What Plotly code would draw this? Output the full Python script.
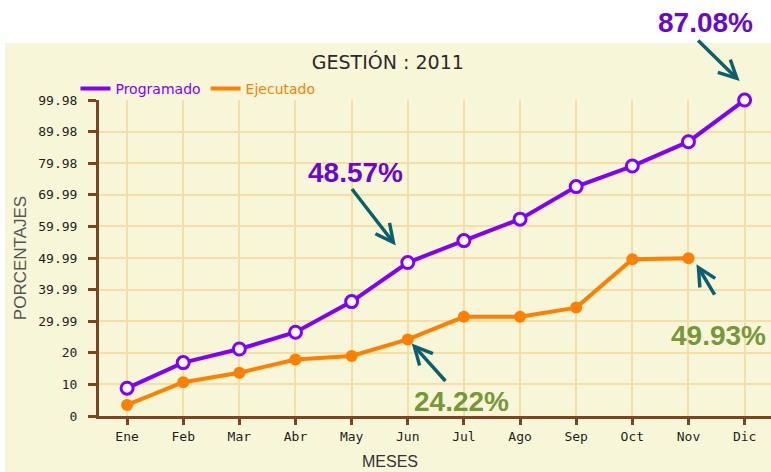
import plotly.graph_objects as go

months = ["Ene", "Feb", "Mar", "Abr", "May", "Jun", "Jul", "Ago", "Sep", "Oct", "Nov", "Dic"]
programado = [8.8, 16.9, 21.2, 26.5, 36.2, 48.57, 55.5, 62.3, 72.6, 79.1, 86.8, 99.98]
ejecutado = [3.5, 10.7, 13.7, 17.9, 19.0, 24.22, 31.4, 31.4, 34.3, 49.6, 49.93]
ytick_vals = [0, 10, 20, 29.99, 39.99, 49.99, 59.99, 69.99, 79.98, 89.98, 99.98]
ytick_text = ["0", "10", "20", "29.99", "39.99", "49.99", "59.99", "69.99", "79.98", "89.98", "99.98"]

PURPLE = "#7F00FF"
ORANGE = "#FF7F00"
BROWN = "#7A4620"
GRID = "#F2E0A8"
CREAM = "#F8F6D8"
TXT_PURPLE = "#6B08D0"
TXT_GREEN = "#77973A"
ARROW = "#0D5F6E"

# plot-area geometry (pixels) used to place free text in paper coords
L, R, T, B = 99, 771, 100, 416
def px(xp):
    return (xp - L) / (R - L)
def py(yp):
    return (B - yp) / (B - T)

fig = go.Figure()

fig.add_trace(go.Scatter(
    x=months, y=programado, mode="lines+markers", showlegend=False, cliponaxis=False,
    line=dict(color=PURPLE, width=4),
    marker=dict(symbol="circle", size=12, color="#FBF9F0", line=dict(color=PURPLE, width=3)),
))
fig.add_trace(go.Scatter(
    x=months[:len(ejecutado)], y=ejecutado, mode="lines+markers", showlegend=False, cliponaxis=False,
    line=dict(color=ORANGE, width=4),
    marker=dict(symbol="circle", size=12, color=ORANGE),
))
# legend entries (line swatch only)
fig.add_trace(go.Scatter(x=[None], y=[None], mode="lines",
                         name=f"<span style='color:{PURPLE}'>Programado</span>",
                         line=dict(color=PURPLE, width=4)))
fig.add_trace(go.Scatter(x=[None], y=[None], mode="lines",
                         name=f"<span style='color:{ORANGE}'>Ejecutado</span>",
                         line=dict(color=ORANGE, width=4)))

fig.update_layout(
    width=771, height=472, autosize=False,
    margin=dict(l=L, r=771 - R, t=T, b=472 - B),
    paper_bgcolor=CREAM, plot_bgcolor=CREAM,
    title=dict(text="GESTIÓN : 2011", x=0.503, xanchor="center", y=1 - 62 / 472, yanchor="middle",
               font=dict(family="DejaVu Sans", size=19, color="#2A2A2A")),
    legend=dict(orientation="h", x=-0.035, y=1.035, xanchor="left", yanchor="middle",
                bgcolor="rgba(0,0,0,0)", font=dict(family="DejaVu Sans", size=14),
                itemwidth=30, tracegroupgap=0),
    font=dict(family="DejaVu Sans"),
    hovermode=False,
)

fig.update_xaxes(
    type="category", range=[-0.5, 11.47],
    showline=True, linecolor=BROWN, linewidth=3,
    ticks="outside", ticklen=6, tickwidth=3, tickcolor=BROWN,
    showgrid=True, gridcolor=GRID, gridwidth=2,
    tickfont=dict(family="DejaVu Sans Mono", size=13, color="#1E1E1E"),
    zeroline=False,
)
fig.update_yaxes(
    range=[0, 100], tickmode="array", tickvals=ytick_vals, ticktext=ytick_text,
    showline=True, linecolor=BROWN, linewidth=3,
    ticks="outside", ticklen=8, tickwidth=3, tickcolor=BROWN, ticklabelstandoff=8,
    showgrid=True, gridcolor=GRID, gridwidth=2,
    tickfont=dict(family="DejaVu Sans Mono", size=13, color="#1E1E1E"),
    zeroline=False,
    title=dict(text="PORCENTAJES", font=dict(family="Liberation Sans", size=17, color="#555555"), standoff=8),
)

# white strip above the chart area and at the left edge
fig.add_shape(type="rect", xref="paper", yref="paper", x0=-0.2, x1=1.01,
              y0=py(43), y1=1.6, fillcolor="white", line_width=0, layer="below")
fig.add_shape(type="rect", xref="paper", yref="paper", x0=-0.2, x1=px(5),
              y0=-0.3, y1=1.6, fillcolor="white", line_width=0, layer="below")

# x axis title
fig.add_annotation(text="MESES", xref="paper", yref="paper", x=px(390), y=py(461),
                   xanchor="center", yanchor="middle",
                   showarrow=False, font=dict(family="Liberation Sans", size=16, color="#333333"))

# callout labels (pixel centres converted to paper coords)
labels = [
    ("87.08%", 705, 22, TXT_PURPLE),
    ("48.57%", 355, 172, TXT_PURPLE),
    ("24.22%", 461, 401, TXT_GREEN),
    ("49.93%", 718, 335, TXT_GREEN),
]
for text, lx, ly, col in labels:
    fig.add_annotation(text=f"<b>{text}</b>", x=px(lx), y=py(ly), xref="paper", yref="paper",
                       xanchor="center", yanchor="middle", showarrow=False,
                       font=dict(family="Liberation Sans", size=28, color=col))

# arrows pointing to points
arrows = [
    (11, programado[11], -5, 19, -43, -42),
    (5, programado[5], -12, 17, -45, -58),
    (5, ejecutado[5], 4, -4, 35, 39),
    (10, ejecutado[10], 8, -6, 19, 32),
]
for ax_i, val, xs, ys, dx, dy in arrows:
    fig.add_annotation(text="", x=ax_i, y=val, xref="x", yref="y", xshift=xs, yshift=ys,
                       showarrow=True, ax=dx, ay=dy, axref="pixel", ayref="pixel",
                       arrowhead=5, arrowsize=1, arrowwidth=3.5, arrowcolor=ARROW)

fig.write_html("out.html", config={"displayModeBar": False, "staticPlot": True},
               post_script="document.body.style.margin='0';document.body.style.overflow='hidden';")
